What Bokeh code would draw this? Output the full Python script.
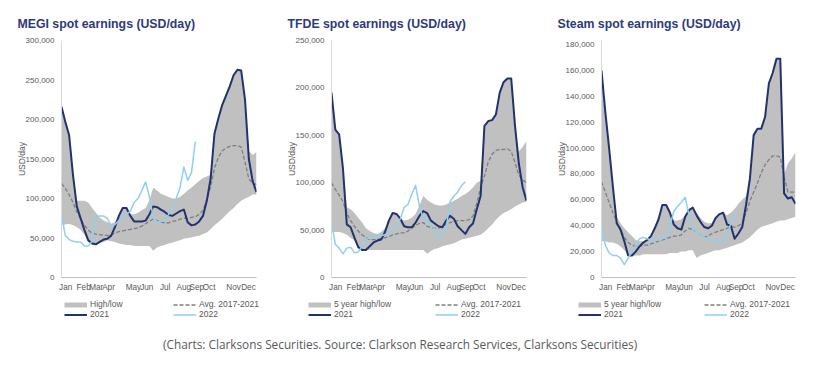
from bokeh.plotting import figure
from bokeh.models import Range1d, FixedTicker, NumeralTickFormatter, Legend, LegendItem, Div
from bokeh.layouts import row, column
from bokeh.embed import file_html
from bokeh.resources import INLINE

# ---------------- data (USD/day, thousands) ----------------
weeks = list(range(52))
weeks_2022 = list(range(36))
month_labels = ["Jan", "Feb", "Mar", "Apr", "May", "Jun", "Jul", "Aug", "Sep", "Oct", "Nov", "Dec"]
month_ticks = [1.1, 5.8, 9.1, 12.3, 18.8, 22.3, 27.1, 32.0, 35.4, 38.6, 45.0, 48.9]

megi_2021 = [216, 197, 180, 130, 90, 75, 60, 47, 43, 42, 45, 48, 49, 53, 64, 78, 88, 88, 78, 71,
             71, 71, 72, 80, 90, 89, 86, 83, 79, 78, 81, 84, 86, 70, 66, 67, 71, 78, 97, 125,
             182, 201, 218, 230, 242, 256, 263, 262, 225, 150, 122, 108]
megi_2022 = [80, 53, 48, 46, 45, 45, 40, 40, 46, 77, 78, 78, 75, 65, 67, 72, 77, 80, 84, 95,
             100, 110, 121, 102, 76, 70, 71, 72, 80, 88, 100, 114, 140, 123, 133, 172]
megi_avg = [119, 113, 105, 95, 83, 74, 66, 60, 56, 55, 54, 54, 53, 54, 56, 58, 59, 60, 61, 62,
            63, 65, 68, 71, 74, 72, 70, 69, 69, 71, 72, 74, 75, 75, 76, 77, 80, 85, 98, 115,
            138, 152, 160, 164, 166, 167, 167, 165, 146, 125, 119, 118]
megi_high = [216, 197, 180, 130, 97, 97, 97, 95, 88, 82, 76, 72, 70, 68, 70, 78, 88, 88, 80, 80,
             82, 85, 88, 98, 114, 110, 106, 104, 102, 100, 100, 102, 106, 110, 114, 118, 122, 126, 128, 130,
             182, 201, 218, 230, 242, 256, 263, 262, 225, 160, 155, 159]
megi_low = [66, 67, 68, 66, 64, 60, 54, 47, 43, 42, 44, 45, 47, 46, 45, 43, 42, 41, 41, 40,
            40, 40, 40, 40, 34, 38, 40, 41, 43, 44, 46, 47, 49, 50, 51, 52, 53, 55, 57, 61,
            66, 70, 74, 79, 84, 88, 93, 97, 100, 102, 105, 105]

tfde_2021 = [195, 156, 151, 115, 56, 53, 42, 32, 29, 29, 33, 37, 39, 40, 48, 60, 68, 67, 62, 54,
             53, 53, 58, 65, 70, 68, 60, 57, 54, 53, 60, 65, 62, 54, 50, 46, 53, 57, 72, 86,
             160, 165, 166, 172, 195, 206, 210, 210, 160, 120, 95, 81]
tfde_2022 = [58, 35, 31, 25, 31, 32, 26, 27, 33, 40, 42, 43, 44, 44, 45, 47, 50, 54, 62, 74,
             77, 88, 97, 75, 62, 60, 56, 51, 43, 45, 52, 80, 86, 90, 97, 101]
tfde_avg = [100, 93, 87, 80, 68, 60, 54, 49, 45, 42, 40, 40, 40, 41, 42, 43, 45, 46, 47, 47,
            49, 52, 55, 57, 58, 54, 53, 52, 52, 54, 56, 58, 59, 60, 60, 60, 61, 65, 78, 95,
            107, 122, 130, 134, 135, 135, 136, 133, 121, 108, 103, 100]
tfde_high = [195, 156, 151, 115, 74, 72, 68, 63, 58, 52, 49, 47, 46, 48, 52, 60, 68, 67, 62, 60,
             61, 63, 67, 76, 86, 82, 79, 77, 76, 76, 77, 79, 81, 83, 86, 88, 91, 95, 100, 102,
             160, 165, 166, 172, 195, 206, 210, 210, 160, 133, 138, 144]
tfde_low = [48, 48, 48, 47, 45, 42, 39, 32, 29, 29, 29, 29, 29, 29, 29, 29, 29, 29, 29, 29,
            29, 29, 29, 29, 29, 25, 28, 30, 31, 33, 34, 35, 36, 38, 40, 41, 42, 43, 44, 45,
            48, 52, 56, 61, 65, 68, 70, 72, 75, 77, 79, 80]

steam_2021 = [160, 128, 100, 70, 42, 37, 28, 17, 17, 20, 24, 27, 29, 32, 38, 45, 56, 56, 50, 41,
              38, 37, 47, 52, 54, 48, 43, 39, 38, 40, 46, 49, 50, 41, 40, 30, 34, 39, 56, 76,
              110, 115, 115, 124, 150, 158, 169, 169, 65, 61, 62, 57]
steam_2022 = [40, 25, 19, 17, 17, 15, 10, 15, 20, 25, 30, 31, 30, 29, 29, 29, 30, 31, 40, 51,
              55, 58, 62, 48, 38, 35, 33, 31, 30, 29, 28, 28, 29, 32, 42, 50]
steam_avg = [74, 66, 58, 50, 43, 37, 31, 27, 25, 24, 24, 25, 25, 26, 27, 28, 29, 30, 31, 32,
             32, 33, 36, 38, 37, 35, 33, 31, 32, 34, 35, 36, 37, 38, 39, 39, 40, 42, 50, 59,
             66, 73, 81, 87, 91, 94, 94, 93, 78, 66, 66, 66]
steam_high = [160, 128, 100, 70, 47, 42, 38, 35, 32, 29, 28, 28, 30, 33, 38, 45, 56, 56, 50, 44,
              44, 45, 48, 52, 54, 50, 46, 43, 42, 42, 46, 49, 50, 48, 50, 53, 57, 60, 63, 80,
              110, 115, 115, 124, 150, 158, 169, 169, 80, 88, 92, 97]
steam_low = [28, 28, 27, 27, 26, 24, 21, 17, 16.5, 17, 17, 18, 18, 18, 18, 18, 18, 18, 19, 19,
             19, 20, 20, 21, 21, 15, 17, 18, 19, 20, 21, 21, 22, 23, 24, 25, 26, 27, 29, 31,
             34, 37, 39, 40, 41, 42, 43, 44, 44, 45, 46, 47]

caption = "(Charts: Clarksons Securities. Source: Clarkson Research Services, Clarksons Securities)"

# ---------------- styles ----------------
NAVY = "#22326e"
LIGHT = "#8fd0ef"
BAND = "#c0c0c0"
AVG = "#7f7f7f"
TXT = "#595959"
TITLE = "#2e3a7a"
FONT = "Liberation Sans"

AVG_STYLE = dict(line_color=AVG, line_width=1.3, line_dash="4 2")
S21_STYLE = dict(line_color=NAVY, line_width=2.0, line_join="round")
S22_STYLE = dict(line_color=LIGHT, line_width=1.5, line_join="round")
BAND_ICON = dict(line_color=BAND, line_width=5)


def k(vals):
    return [v * 1000 for v in vals]


def make_chart(title, ymax, yend, ystep, high, low, avg, y21, y22, width, left, right):
    p = figure(width=width, height=298, output_backend="svg", toolbar_location=None,
               x_range=Range1d(0, 51), y_range=Range1d(0, yend * 1000),
               min_border_left=left, min_border_right=right, min_border_top=40,
               min_border_bottom=21)
    p.outline_line_color = None
    p.xgrid.visible = False
    p.ygrid.visible = False

    p.title.text = title
    p.title.align = "left"
    p.title.offset = -44
    p.title.standoff = 19
    p.title.text_font = FONT
    p.title.text_font_size = "12.3px"
    p.title.text_font_style = "bold"
    p.title.text_color = TITLE

    p.varea(x=weeks, y1=k(low), y2=k(high), fill_color=BAND)
    p.line(x=weeks, y=k(avg), **AVG_STYLE)
    p.line(x=weeks, y=k(y21), **S21_STYLE)
    p.line(x=weeks_2022, y=k(y22), **S22_STYLE)

    p.yaxis.ticker = FixedTicker(ticks=list(range(0, ymax * 1000 + 1, ystep * 1000)))
    p.yaxis.formatter = NumeralTickFormatter(format="0,0")
    p.xaxis.ticker = FixedTicker(ticks=month_ticks)
    p.xaxis.major_label_overrides = {t: m for t, m in zip(month_ticks, month_labels)}
    for ax in (p.xaxis[0], p.yaxis[0]):
        ax.major_tick_line_color = None
        ax.minor_tick_line_color = None
        ax.major_tick_out = 0
        ax.major_tick_in = 0
        ax.major_label_text_font = FONT
        ax.major_label_text_color = TXT
    p.yaxis.major_label_text_font_size = "8px"
    p.xaxis.major_label_text_font_size = "8.2px"
    p.yaxis.axis_line_color = "#d9d9d9"
    p.xaxis.axis_line_color = "#bfbfbf"
    p.yaxis.major_label_standoff = 7
    p.xaxis.major_label_standoff = 5
    p.yaxis.axis_label = "USD/day"
    p.yaxis.axis_label_text_font = FONT
    p.yaxis.axis_label_text_font_size = "8.5px"
    p.yaxis.axis_label_text_font_style = "normal"
    p.yaxis.axis_label_text_color = TXT
    p.yaxis.axis_label_standoff = -4
    return p


def make_legend(width, band_label, high, avg, y21, y22, ax, bx):
    lp = figure(width=width, height=24, output_backend="svg", toolbar_location=None,
                x_range=Range1d(0, 1), y_range=Range1d(0, 1),
                x_axis_location=None, y_axis_location=None, min_border=0,
                frame_align=False)
    lp.outline_line_color = None
    lp.grid.visible = False
    # hidden copies of the series, used only to draw the legend keys
    r_band = lp.line(x=weeks, y=k(high), visible=False, **BAND_ICON)
    r_avg = lp.line(x=weeks, y=k(avg), visible=False, **AVG_STYLE)
    r21 = lp.line(x=weeks, y=k(y21), visible=False, **S21_STYLE)
    r22 = lp.line(x=weeks_2022, y=k(y22), visible=False, **S22_STYLE)

    def col(items, x):
        lg = Legend(items=items, location=(x, 3), padding=0, margin=0, spacing=0,
                    glyph_width=23, glyph_height=9, label_height=9, label_standoff=3,
                    label_text_font=FONT, label_text_font_size="8.5px",
                    label_text_color=TXT, border_line_color=None,
                    background_fill_alpha=0, inactive_fill_alpha=0)
        lp.add_layout(lg)

    col([LegendItem(label=band_label, renderers=[r_band]),
         LegendItem(label="2021", renderers=[r21])], ax)
    col([LegendItem(label="Avg. 2017-2021", renderers=[r_avg]),
         LegendItem(label="2022", renderers=[r22])], bx)
    return lp


p1 = make_chart("MEGI spot earnings (USD/day)", 300, 300, 50, megi_high, megi_low, megi_avg,
                megi_2021, megi_2022, 278, 61, 22)
p2 = make_chart("TFDE spot earnings (USD/day)", 250, 250, 50, tfde_high, tfde_low, tfde_avg,
                tfde_2021, tfde_2022, 270, 53, 22)
p3 = make_chart("Steam spot earnings (USD/day)", 180, 183.1, 20, steam_high, steam_low, steam_avg,
                steam_2021, steam_2022, 270, 53, 23)

l1 = make_legend(278, "High/low", megi_high, megi_avg, megi_2021, megi_2022, 64, 173)
l2 = make_legend(270, "5 year high/low", tfde_high, tfde_avg, tfde_2021, tfde_2022, 30, 157)
l3 = make_legend(270, "5 year high/low", steam_high, steam_avg, steam_2021, steam_2022, 30, 156)

cap = Div(text=caption, width=818, height=36, margin=(0, 0, 0, 0),
          styles={"font-family": "Open Sans", "font-size": "11.8px", "color": TXT,
                  "padding-left": "163px", "padding-top": "14px"})

layout = column(row(column(p1, l1, spacing=0), column(p2, l2, spacing=0),
                    column(p3, l3, spacing=0), spacing=0),
                cap, spacing=0)
open("out.html", "w").write(file_html(layout, INLINE))
